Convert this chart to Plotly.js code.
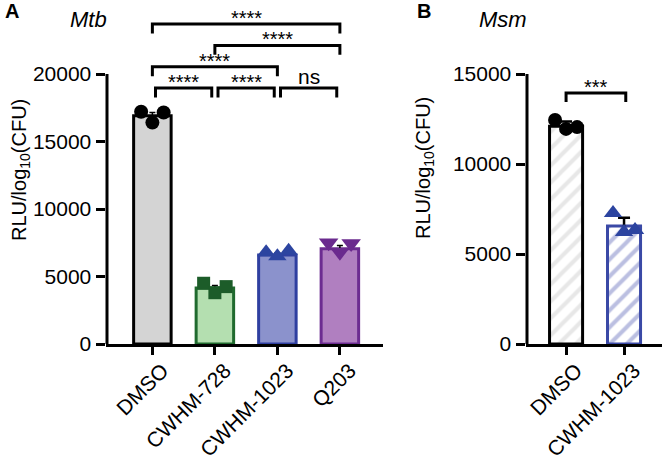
<!DOCTYPE html>
<html>
<head>
<meta charset="utf-8">
<script src="https://cdn.plot.ly/plotly-3.0.1.min.js"></script>
<style>html,body{margin:0;padding:0;background:#fff;}#chart{width:666px;height:461px;}</style>
</head>
<body>
<div id="chart"></div>
<script>
// ---------- Panel A (Mtb) ----------
var catsA = ["DMSO", "CWHM-728", "CWHM-1023", "Q203"];
var barA = [16900, 4150, 6600, 7050];
var sdA = [250, 180, 150, 250];
var ptsA_DMSO = [17200, 16400, 17150];
var ptsA_728 = [4500, 3800, 4250];
var ptsA_1023 = [6800, 6500, 6900];
var ptsA_Q203 = [7500, 6800, 7450];
var ticksA = [0, 5000, 10000, 15000, 20000];

// significance brackets panel A: [from, to], label, stacking level
var bracketPairsA = [[0, 1], [1, 2], [2, 3], [0, 2], [1, 3], [0, 3]];
var bracketLabelsA = ["****", "****", "ns", "****", "****", "****"];
var bracketLevelsA = [0, 0, 0, 1, 2, 3];

// ---------- Panel B (Msm) ----------
var catsB = ["DMSO", "CWHM-1023"];
var barB = [12100, 6560];
var sdB = [260, 450];
var ptsB_DMSO = [12450, 11950, 12050];
var ptsB_1023 = [7280, 6220, 6330];
var ticksB = [0, 5000, 10000, 15000];
var bracketPairsB = [[0, 1]];
var bracketLabelsB = ["***"];

// ---------- styles ----------
var FONT = "Liberation Sans, Arial, Helvetica, sans-serif";
var fillA = ["#d4d4d4", "#b4dfb0", "#8b92cc", "#b07fc0"];
var lineA = ["#000000", "#1f6a2e", "#2f3fa0", "#6c2c91"];
var markA = ["#000000", "#1c5c29", "#2c44a0", "#6a2a8e"];
var symA = ["circle", "square", "triangle-up", "triangle-down"];
var sizeA = [14, 13, 16, 17];
var offs = [-0.18, 0, 0.18];

var W = 666, H = 461;
function px(x) { return x / W; }
function py(y) { return 1 - y / H; }

var traces = [];
traces.push({
  type: "bar", x: catsA.map(function (c, i) { return i; }), y: barA, width: 0.6,
  xaxis: "x", yaxis: "y",
  marker: { color: fillA, line: { color: lineA, width: 3 } },
  error_y: { type: "data", array: sdA, color: "#000", thickness: 1.5, width: 3 },
  hoverinfo: "skip", showlegend: false
});
var ptsA = [ptsA_DMSO, ptsA_728, ptsA_1023, ptsA_Q203];
ptsA.forEach(function (arr, i) {
  traces.push({
    type: "scatter", mode: "markers", xaxis: "x", yaxis: "y",
    x: arr.map(function (v, j) { return i + offs[j]; }), y: arr,
    marker: { symbol: symA[i], size: sizeA[i], color: markA[i], line: { width: 0 } },
    cliponaxis: false, hoverinfo: "skip", showlegend: false
  });
});

traces.push({
  type: "bar", x: catsB.map(function (c, i) { return i; }), y: barB, width: 0.57,
  xaxis: "x2", yaxis: "y2",
  marker: {
    color: "#ffffff",
    line: { color: ["#000000", "#3a49a6"], width: 3 },
    pattern: { shape: "/", fgcolor: ["#cfcfcf", "#7780c4"], bgcolor: "#ffffff", fillmode: "overlay", size: 12, solidity: 0.34 }
  },
  error_y: { type: "data", array: sdB, color: "#000", thickness: 2.5, width: 6 },
  hoverinfo: "skip", showlegend: false
});
var ptsB = [ptsB_DMSO, ptsB_1023];
var symB = ["circle", "triangle-up"], colB = ["#000000", "#2c44a0"], sizeB = [14, 16];
var offsB = [-0.19, 0, 0.19];
ptsB.forEach(function (arr, i) {
  traces.push({
    type: "scatter", mode: "markers", xaxis: "x2", yaxis: "y2",
    x: arr.map(function (v, j) { return i + offsB[j]; }), y: arr,
    marker: { symbol: symB[i], size: sizeB[i], color: colB[i], line: { width: 0 } },
    cliponaxis: false, hoverinfo: "skip", showlegend: false
  });
});

var shapes = [], annotations = [];
// y-axis lines limited to the tick range
shapes.push({ type: "line", xref: "paper", yref: "y", x0: px(107), x1: px(107), y0: 0, y1: 20000, line: { color: "#000", width: 3 } });
shapes.push({ type: "line", xref: "paper", yref: "y2", x0: px(527), x1: px(527), y0: 0, y1: 15000, line: { color: "#000", width: 3 } });

function bracket(xr, yr, x0, x1, y, drop, label) {
  shapes.push({ type: "path", xref: xr, yref: yr,
    path: "M" + x0 + "," + (y - drop) + " L" + x0 + "," + y + " L" + x1 + "," + y + " L" + x1 + "," + (y - drop),
    line: { color: "#000", width: 3 } });
  annotations.push({ xref: xr, yref: yr, x: (x0 + x1) / 2, y: y, yanchor: "bottom", xanchor: "center",
    yshift: label === "ns" ? -2 : -7,
    text: label, showarrow: false, font: { family: FONT, size: label === "ns" ? 21 : 20, color: "#000" } });
}
bracketPairsA.forEach(function (p, k) {
  var lvl = bracketLevelsA[k];
  var shrink = lvl === 0 ? 0.05 : 0;
  bracket("x", "y", p[0] + shrink, p[1] - shrink, 18960 + lvl * 1580, 700, bracketLabelsA[k]);
});
bracketPairsB.forEach(function (p, k) {
  bracket("x2", "y2", p[0], p[1] + 0.03, 13950, 500, bracketLabelsB[k]);
});

var tf = { family: FONT, size: 22, color: "#000" };
annotations.push({ xref: "paper", yref: "paper", x: px(12), y: py(11), text: "<b>A</b>", showarrow: false, xanchor: "center", yanchor: "middle", font: { family: FONT, size: 20, color: "#000" } });
annotations.push({ xref: "paper", yref: "paper", x: px(424), y: py(11), text: "<b>B</b>", showarrow: false, xanchor: "center", yanchor: "middle", font: { family: FONT, size: 20, color: "#000" } });
annotations.push({ xref: "paper", yref: "paper", x: px(88), y: py(19), text: "<i>Mtb</i>", showarrow: false, xanchor: "center", yanchor: "middle", font: tf });
annotations.push({ xref: "paper", yref: "paper", x: px(503), y: py(19), text: "<i>Msm</i>", showarrow: false, xanchor: "center", yanchor: "middle", font: tf });
annotations.push({ xref: "paper", yref: "paper", x: px(20), y: py(170), text: "RLU/log<sub>10</sub>(CFU)", textangle: -90, showarrow: false, xanchor: "center", yanchor: "middle", font: { family: FONT, size: 20, color: "#000" } });
annotations.push({ xref: "paper", yref: "paper", x: px(425), y: py(168), text: "RLU/log<sub>10</sub>(CFU)", textangle: -90, showarrow: false, xanchor: "center", yanchor: "middle", font: { family: FONT, size: 20, color: "#000" } });

var axCommon = {
  showgrid: false, zeroline: false, ticks: "outside", tickwidth: 3, tickcolor: "#000",
  tickfont: { family: FONT, size: 21, color: "#000" }, fixedrange: true
};
function merge(a, b) { var o = {}; for (var k in a) o[k] = a[k]; for (var k2 in b) o[k2] = b[k2]; return o; }

var yDom = [py(344), py(4)];
var layout = {
  width: W, height: H, margin: { l: 0, r: 0, t: 0, b: 0 },
  paper_bgcolor: "#fff", plot_bgcolor: "rgba(0,0,0,0)", showlegend: false,
  xaxis: merge(axCommon, {
    domain: [px(105.5), px(383)], range: [-0.75, 3.69], anchor: "y",
    tickmode: "array", tickvals: [0, 1, 2, 3], ticktext: catsA, tickangle: -45, ticklen: 8,
    ticklabelshift: 10, ticklabelstandoff: -5,
    showline: true, linewidth: 3, linecolor: "#000"
  }),
  yaxis: merge(axCommon, {
    domain: yDom, range: [0, 25185], anchor: "x",
    tickmode: "array", tickvals: ticksA, ticktext: ticksA.map(String), ticklen: 9, showline: false
  }),
  xaxis2: merge(axCommon, {
    domain: [px(525.5), px(662)], range: [-0.7, 1.655], anchor: "y2",
    tickmode: "array", tickvals: [0, 1], ticktext: catsB, tickangle: -45, ticklen: 8,
    ticklabelshift: 10, ticklabelstandoff: -5,
    showline: true, linewidth: 3, linecolor: "#000"
  }),
  yaxis2: merge(axCommon, {
    domain: yDom, range: [0, 18889], anchor: "x2",
    tickmode: "array", tickvals: ticksB, ticktext: ticksB.map(String), ticklen: 9, showline: false
  }),
  shapes: shapes, annotations: annotations
};

Plotly.newPlot("chart", traces, layout, { staticPlot: true, displayModeBar: false });
</script>
</body>
</html>
